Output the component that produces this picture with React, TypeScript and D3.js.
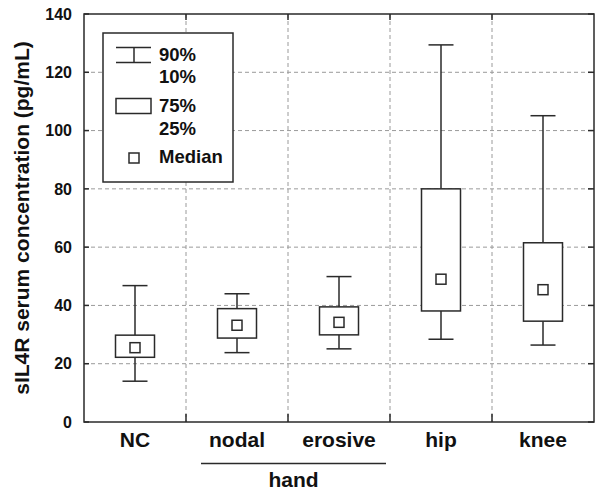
import React from "react";
import * as d3 from "d3";

const categories = ["NC", "nodal", "erosive", "hip", "knee"];
const p10 = [14.0, 23.8, 25.1, 28.4, 26.4];
const p25 = [22.2, 28.8, 29.9, 38.1, 34.6];
const medians = [25.5, 33.2, 34.2, 49.0, 45.4];
const p75 = [29.8, 38.9, 39.5, 80.0, 61.5];
const p90 = [46.8, 44.0, 49.9, 129.4, 105.1];
const yTicks = [0, 20, 40, 60, 80, 100, 120, 140];
const groupLabel = "hand";
const groupMembers = ["nodal", "erosive"];
const yTitle = "sIL4R serum concentration (pg/mL)";

const W = 598;
const H = 491;
const M = { left: 84, right: 4, top: 14, bottom: 69 };
const FONT = "'Liberation Sans', Arial, Helvetica, sans-serif";
const INK = "#2a2a2a";

export default function App() {
  const x = d3
    .scaleBand<string>()
    .domain(categories)
    .range([M.left, W - M.right])
    .padding(0);
  const y = d3
    .scaleLinear()
    .domain([0, 140])
    .range([H - M.bottom, M.top]);
  const bw = x.bandwidth();
  const boxW = 39;
  const capW = 25;
  const medS = 10;
  const x0 = M.left;
  const x1 = W - M.right;
  const y0 = y(0);
  const y1 = y(140);

  const gx0 = (x(groupMembers[0]) as number) + 15;
  const gx1 = (x(groupMembers[groupMembers.length - 1]) as number) + bw - 4;

  return (
    <svg
      width={W}
      height={H}
      style={{ position: "absolute", left: 0, top: 0, background: "#fff" }}
      fontFamily={FONT}
      fontWeight="bold"
    >
      {/* grid */}
      {yTicks
        .filter((t) => t > 0 && t < 140)
        .map((t) => (
          <line
            key={"hg" + t}
            x1={x0}
            x2={x1}
            y1={y(t)}
            y2={y(t)}
            stroke="#9a9a9a"
            strokeWidth={1}
            strokeDasharray="4,3"
          />
        ))}
      {categories.slice(1).map((c) => (
        <line
          key={"vg" + c}
          x1={x(c) as number}
          x2={x(c) as number}
          y1={y1}
          y2={y0}
          stroke="#9a9a9a"
          strokeWidth={1}
          strokeDasharray="4,3"
        />
      ))}
      {/* axis ticks */}
      {yTicks.map((t) => (
        <g key={"yt" + t}>
          <line x1={x0} x2={x0 + 5} y1={y(t)} y2={y(t)} stroke={INK} strokeWidth={1.5} />
          <line x1={x1 - 6} x2={x1} y1={y(t)} y2={y(t)} stroke={INK} strokeWidth={1.5} />
          <text x={72} y={y(t)} dy="0.36em" textAnchor="end" fontSize={16} fill="#111">
            {t}
          </text>
        </g>
      ))}
      {categories.slice(1).map((c) => (
        <g key={"xt" + c}>
          <line x1={x(c) as number} x2={x(c) as number} y1={y0} y2={y0 - 8} stroke={INK} strokeWidth={1.5} />
          <line x1={x(c) as number} x2={x(c) as number} y1={y1} y2={y1 + 6} stroke={INK} strokeWidth={1.5} />
        </g>
      ))}
      {/* frame */}
      <rect x={x0} y={y1} width={x1 - x0} height={y0 - y1} fill="none" stroke={INK} strokeWidth={1.5} />

      {/* boxes */}
      {categories.map((c, i) => {
        const cx = (x(c) as number) + bw / 2;
        return (
          <g key={"b" + c} stroke={INK} strokeWidth={1.5} fill="#fff">
            <line x1={cx} x2={cx} y1={y(p90[i])} y2={y(p75[i])} />
            <line x1={cx} x2={cx} y1={y(p25[i])} y2={y(p10[i])} />
            <line x1={cx - capW / 2} x2={cx + capW / 2} y1={y(p90[i])} y2={y(p90[i])} />
            <line x1={cx - capW / 2} x2={cx + capW / 2} y1={y(p10[i])} y2={y(p10[i])} />
            <rect x={cx - boxW / 2} y={y(p75[i])} width={boxW} height={y(p25[i]) - y(p75[i])} />
            <rect x={cx - medS / 2} y={y(medians[i]) - medS / 2} width={medS} height={medS} />
          </g>
        );
      })}

      {/* category labels */}
      {categories.map((c) => (
        <text
          key={"cl" + c}
          x={(x(c) as number) + bw / 2}
          y={447}
          textAnchor="middle"
          fontSize={21}
          fill="#111"
        >
          {c}
        </text>
      ))}
      <line x1={gx0} x2={gx1} y1={463.5} y2={463.5} stroke={INK} strokeWidth={1.5} />
      <text x={(gx0 + gx1) / 2} y={487} textAnchor="middle" fontSize={21} fill="#111">
        {groupLabel}
      </text>

      {/* y title */}
      <text
        transform={`translate(29,${(y0 + y1) / 2}) rotate(-90)`}
        textAnchor="middle"
        fontSize={21}
        fill="#111"
      >
        {yTitle}
      </text>

      {/* legend */}
      <g>
        <rect x={103} y={33} width={130} height={149} fill="#fff" stroke={INK} strokeWidth={1.5} />
        <g stroke={INK} strokeWidth={1.5} fill="#fff">
          <line x1={116} x2={151} y1={47.5} y2={47.5} />
          <line x1={116} x2={151} y1={62.5} y2={62.5} />
          <line x1={134} x2={134} y1={47.5} y2={62.5} />
          <rect x={116} y={98.5} width={35} height={15} />
          <rect x={129} y={153} width={10} height={10} />
        </g>
        <g fontSize={18.5} fill="#111">
          <text x={159} y={61}>90%</text>
          <text x={159} y={83}>10%</text>
          <text x={159} y={112}>75%</text>
          <text x={159} y={135}>25%</text>
          <text x={159} y={163}>Median</text>
        </g>
      </g>
    </svg>
  );
}
